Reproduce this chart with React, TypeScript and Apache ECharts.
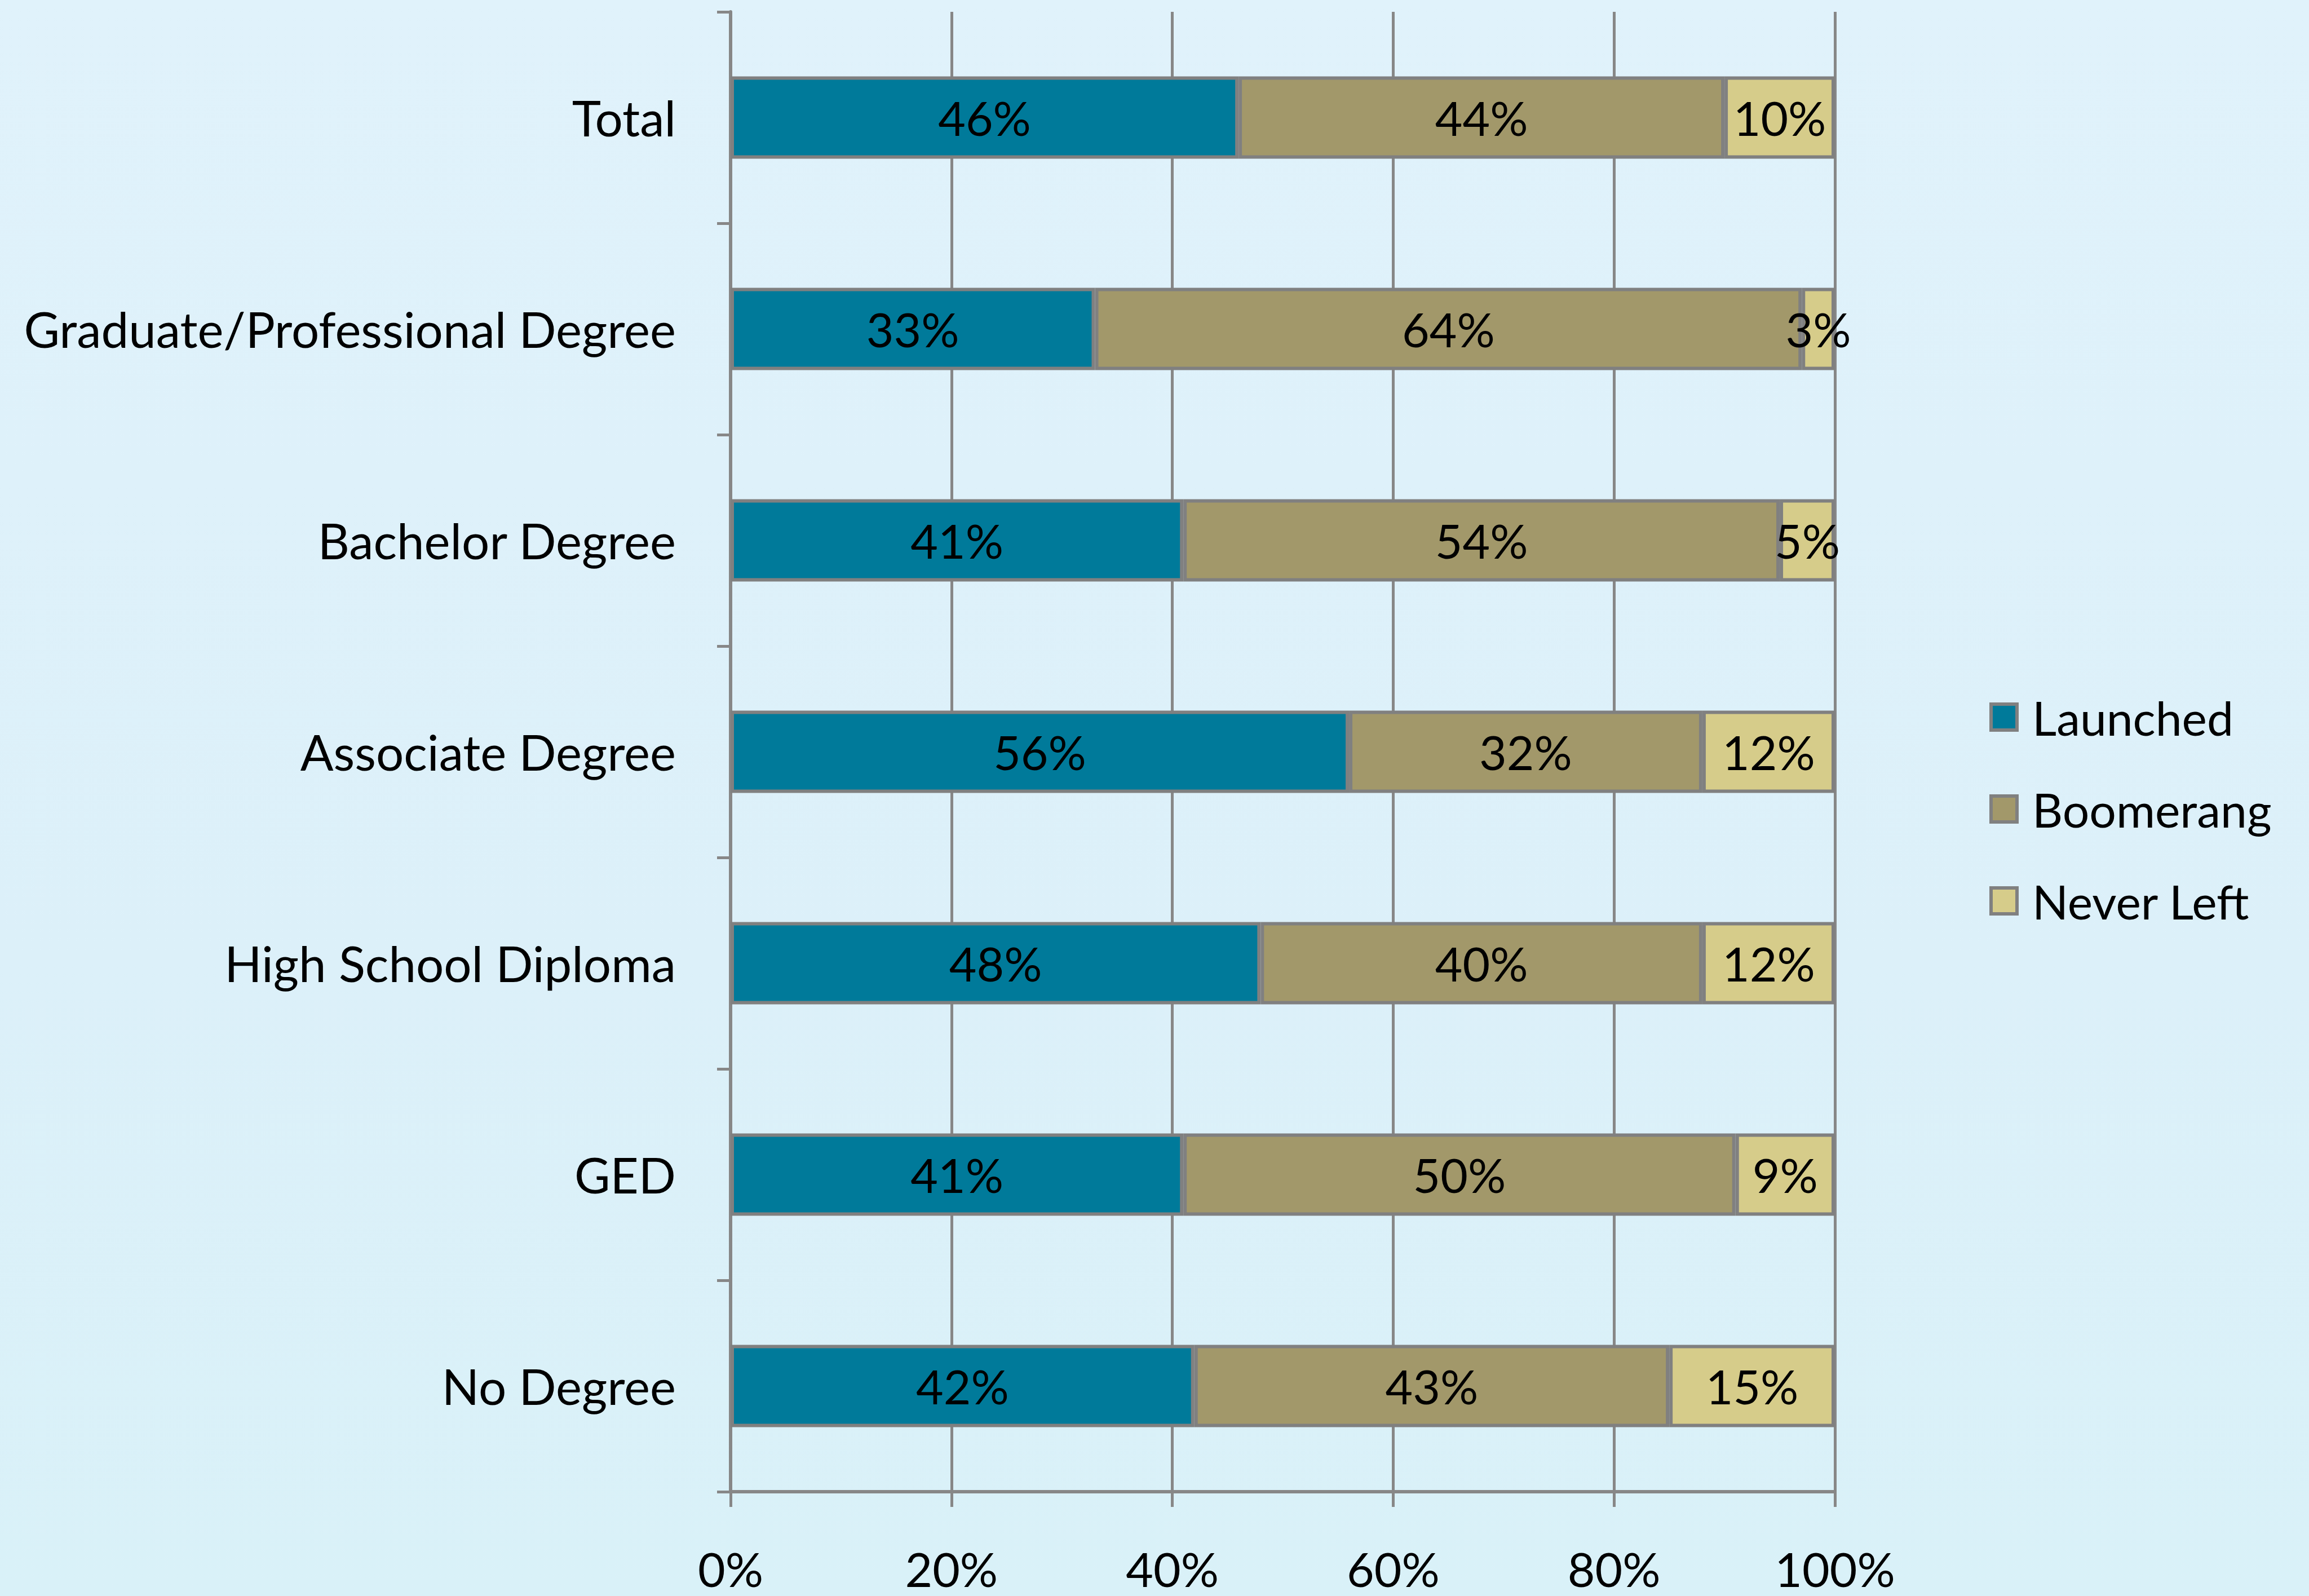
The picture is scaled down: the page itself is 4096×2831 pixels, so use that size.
import React, { useEffect, useRef } from "react";
import * as echarts from "echarts";

const categories = [
  "Total",
  "Graduate/Professional Degree",
  "Bachelor Degree",
  "Associate Degree",
  "High School Diploma",
  "GED",
  "No Degree",
];
const launched = [46, 33, 41, 56, 48, 41, 42];
const boomerang = [44, 64, 54, 32, 40, 50, 43];
const neverLeft = [10, 3, 5, 12, 12, 9, 15];
const seriesNames = ["Launched", "Boomerang", "Never Left"];
const seriesColors = ["#007A9A", "#A2986A", "#D6CC8A"];
const xTicks = [0, 20, 40, 60, 80, 100];

const FONT = "Lato";
const FS = 84;

export default function App() {
  const ref = useRef<HTMLDivElement>(null);
  useEffect(() => {
    const chart = echarts.init(ref.current!, null, { renderer: "svg" });
    const data = [launched, boomerang, neverLeft];
    chart.setOption({
      animation: false,
      grid: { left: 1296, right: 841, top: 21, bottom: 185, containLabel: false },
      legend: {
        orient: "vertical",
        left: 3524,
        top: 1217,
        itemWidth: 46,
        itemHeight: 46,
        itemGap: 63,
        icon: "rect",
        itemStyle: { borderColor: "#808080", borderWidth: 6 },
        textStyle: {
          fontFamily: FONT,
          fontSize: FS,
          color: "#000",
          lineHeight: 100,
          padding: [0, 0, 0, 22],
        },
        data: seriesNames,
      },
      xAxis: {
        type: "value",
        min: xTicks[0],
        max: xTicks[xTicks.length - 1],
        interval: 20,
        axisLine: { show: true, lineStyle: { color: "#878787", width: 6 } },
        axisTick: { show: true, length: 27, lineStyle: { color: "#878787", width: 5 } },
        splitLine: { show: true, lineStyle: { color: "#878787", width: 5 } },
        axisLabel: {
          formatter: "{value}%",
          fontFamily: FONT,
          fontSize: FS,
          lineHeight: 84,
          color: "#000",
          margin: 94,
        },
      },
      yAxis: {
        type: "category",
        inverse: true,
        data: categories,
        axisLine: { show: true, lineStyle: { color: "#878787", width: 6 } },
        axisTick: { show: true, length: 24, lineStyle: { color: "#878787", width: 5 } },
        axisLabel: {
          fontFamily: FONT,
          fontSize: 87,
          color: "#000",
          margin: 97,
        },
      },
      series: seriesNames.map((name, i) => ({
        name,
        type: "bar",
        stack: "total",
        barWidth: 146,
        data: data[i],
        itemStyle: { color: seriesColors[i], borderColor: "#808080", borderWidth: 6 },
        label: {
          show: true,
          position: "inside",
          formatter: (p: any) => p.value + "%",
          fontFamily: FONT,
          fontSize: FS,
          color: "#000",
        },
      })),
    });
    return () => chart.dispose();
  }, []);
  return (
    <div
      style={{
        position: "fixed",
        left: 0,
        top: 0,
        width: 4096,
        height: 2831,
        background:
          "linear-gradient(180deg, #e0f2fb 0%, #dcf0f9 60%, #d9f1f8 100%)",
      }}
    >
      <div ref={ref} style={{ width: 4096, height: 2831 }} />
    </div>
  );
}
